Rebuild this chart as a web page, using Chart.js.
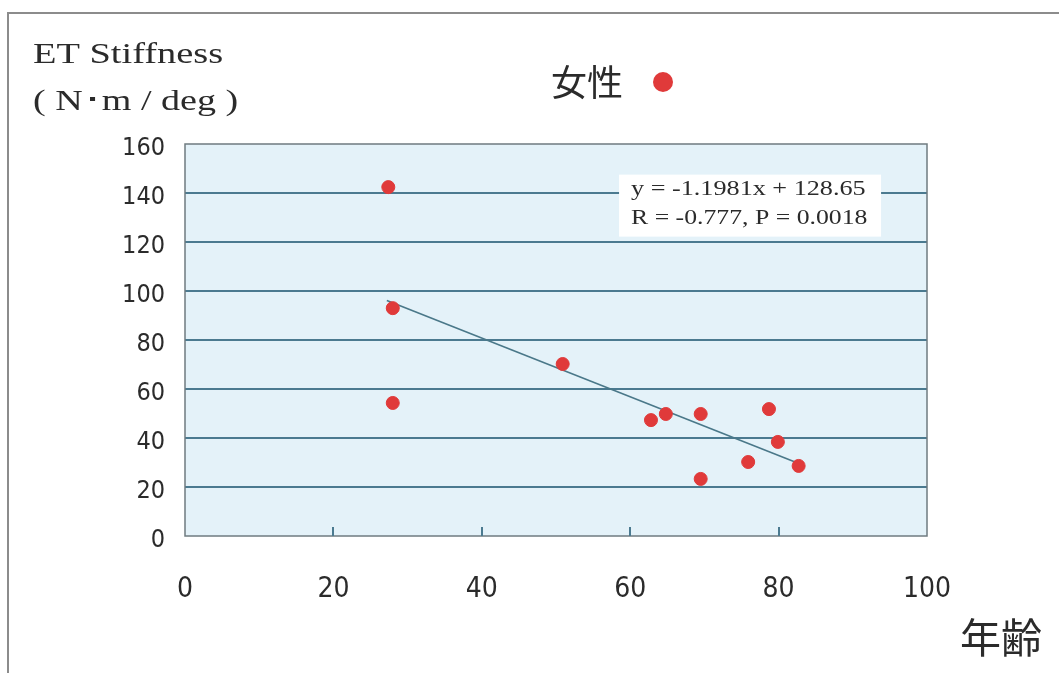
<!DOCTYPE html>
<html>
<head>
<meta charset="utf-8">
<script src="https://cdn.jsdelivr.net/npm/chart.js@4.4.1/dist/chart.umd.min.js"></script>
<style>
html, body { margin: 0; padding: 0; background: #fff; }
</style>
</head>
<body>
<canvas id="stiffnessChart" width="1059" height="673"></canvas>
<script>
// data
const ages = [27.4, 28.0, 28.0, 50.9, 62.8, 64.8, 69.5, 69.5, 75.9, 78.7, 79.9, 82.7];
const stiffness = [142.4, 93.0, 54.3, 70.2, 47.3, 49.8, 49.8, 23.3, 30.2, 51.8, 38.4, 28.6];
const trendAges = [27.2, 82.9];
const trendValues = [96.1, 29.4];
const xTicks = [0, 20, 40, 60, 80, 100];
const yTicks = [0, 20, 40, 60, 80, 100, 120, 140, 160];
const seriesLabel = '女性';
const titleLines = ['ET Stiffness', '( N･m / deg )'];
const xTitle = '年齢';
const fitLines = ['y = -1.1981x + 128.65', 'R = -0.777, P = 0.0018'];

const narrow = "'DejaVu Sans Condensed', 'Liberation Sans Narrow', 'Liberation Sans', sans-serif";
const serif = "'Liberation Serif', 'DejaVu Serif', serif";
const cjk = "'Noto Sans CJK JP', 'Noto Sans CJK SC', sans-serif";
const gridColor = '#4b7a90';
const dotColor = '#e03a3a';
const textColor = '#2b2b2b';

// text stretched sideways, like the scanned original
function wideText(ctx, str, x, y, sx) {
    ctx.save();
    ctx.translate(x, y);
    ctx.scale(sx, 1);
    ctx.fillText(str, 0, 0);
    ctx.restore();
}

const decor = {
    id: 'decor',
    beforeDraw(chart) {
        const { ctx, chartArea: a } = chart;
        ctx.save();
        ctx.fillStyle = '#fff';
        ctx.fillRect(0, 0, chart.width, chart.height);
        // outer frame (left + top)
        ctx.strokeStyle = '#8c8c8c';
        ctx.lineWidth = 2;
        ctx.beginPath();
        ctx.moveTo(8, chart.height);
        ctx.lineTo(8, 13);
        ctx.lineTo(chart.width, 13);
        ctx.stroke();
        // plot background
        ctx.fillStyle = '#e4f2f9';
        ctx.fillRect(a.left, a.top, a.right - a.left, a.bottom - a.top);
        ctx.restore();
    },
    beforeDatasetsDraw(chart) {
        const { ctx } = chart;
        const x = chart.scales.x, y = chart.scales.y;
        ctx.save();
        // fit equation box
        const bx = x.getPixelForValue(58.5), by = y.getPixelForValue(147.5);
        const bw = 262, bh = 62;
        ctx.fillStyle = '#fff';
        ctx.fillRect(bx, by, bw, bh);
        ctx.fillStyle = textColor;
        ctx.font = '22px ' + serif;
        ctx.textBaseline = 'middle';
        wideText(ctx, fitLines[0], bx + 12, by + 15, 1.19);
        wideText(ctx, fitLines[1], bx + 12, by + 44, 1.17);
        ctx.restore();
    },
    afterDraw(chart) {
        const { ctx, chartArea: a } = chart;
        const x = chart.scales.x;
        ctx.save();
        // plot border
        ctx.strokeStyle = '#6f7b80';
        ctx.lineWidth = 1.5;
        ctx.strokeRect(a.left, a.top, a.right - a.left, a.bottom - a.top);
        // short inner tick marks on the x axis
        ctx.strokeStyle = gridColor;
        ctx.lineWidth = 2;
        xTicks.slice(1, -1).forEach(v => {
            const px = Math.round(x.getPixelForValue(v));
            ctx.beginPath();
            ctx.moveTo(px, a.bottom);
            ctx.lineTo(px, a.bottom - 9);
            ctx.stroke();
        });
        // y axis title
        ctx.fillStyle = textColor;
        ctx.textBaseline = 'alphabetic';
        ctx.font = '30px ' + serif;
        wideText(ctx, titleLines[0], 33, 63, 1.28);
        wideText(ctx, titleLines[1], 33, 110, 1.27);
        // legend
        ctx.font = '36px ' + cjk;
        ctx.textBaseline = 'middle';
        ctx.fillText(seriesLabel, 551, 82);
        ctx.fillStyle = dotColor;
        ctx.beginPath();
        ctx.arc(663, 82, 10, 0, Math.PI * 2);
        ctx.fill();
        // x axis title
        ctx.fillStyle = textColor;
        ctx.font = '41px ' + cjk;
        ctx.fillText(xTitle, 960, 637);
        ctx.restore();
    }
};

const ctx = document.getElementById('stiffnessChart').getContext('2d');
const stiffnessChart = new Chart(ctx, {
    type: 'scatter',
    data: {
        datasets: [{
            label: seriesLabel,
            data: ages.map((a, i) => ({ x: a, y: stiffness[i] })),
            backgroundColor: dotColor,
            borderColor: dotColor,
            pointRadius: 6.5,
            pointHoverRadius: 6.5
        }, {
            label: 'trend',
            type: 'line',
            data: trendAges.map((a, i) => ({ x: a, y: trendValues[i] })),
            borderColor: '#4a7889',
            borderWidth: 1.6,
            pointRadius: 0,
            fill: false
        }]
    },
    options: {
        responsive: false,
        animation: false,
        layout: { padding: { top: 144, right: 132, bottom: 47, left: 0 } },
        plugins: {
            legend: { display: false },
            title: { display: false },
            tooltip: { enabled: false }
        },
        scales: {
            x: {
                type: 'linear',
                min: 0,
                max: 100,
                afterBuildTicks: s => { s.ticks = xTicks.map(v => ({ value: v })); },
                afterFit: s => { s.height = 90; },
                grid: { display: false },
                border: { display: false },
                ticks: {
                    padding: 29,
                    color: textColor,
                    font: { family: narrow, size: 28 },
                    maxRotation: 0
                }
            },
            y: {
                type: 'linear',
                min: 0,
                max: 160,
                afterBuildTicks: s => { s.ticks = yTicks.map(v => ({ value: v })); },
                afterFit: s => { s.width = 185; },
                grid: {
                    color: c => (c.tick && (c.tick.value === 0 || c.tick.value === 160)) ? 'rgba(0,0,0,0)' : gridColor,
                    lineWidth: 2,
                    drawTicks: false
                },
                border: { display: false },
                ticks: {
                    padding: 20,
                    labelOffset: 4,
                    color: textColor,
                    font: { family: narrow, size: 25 }
                }
            }
        }
    },
    plugins: [decor]
});
</script>
</body>
</html>
